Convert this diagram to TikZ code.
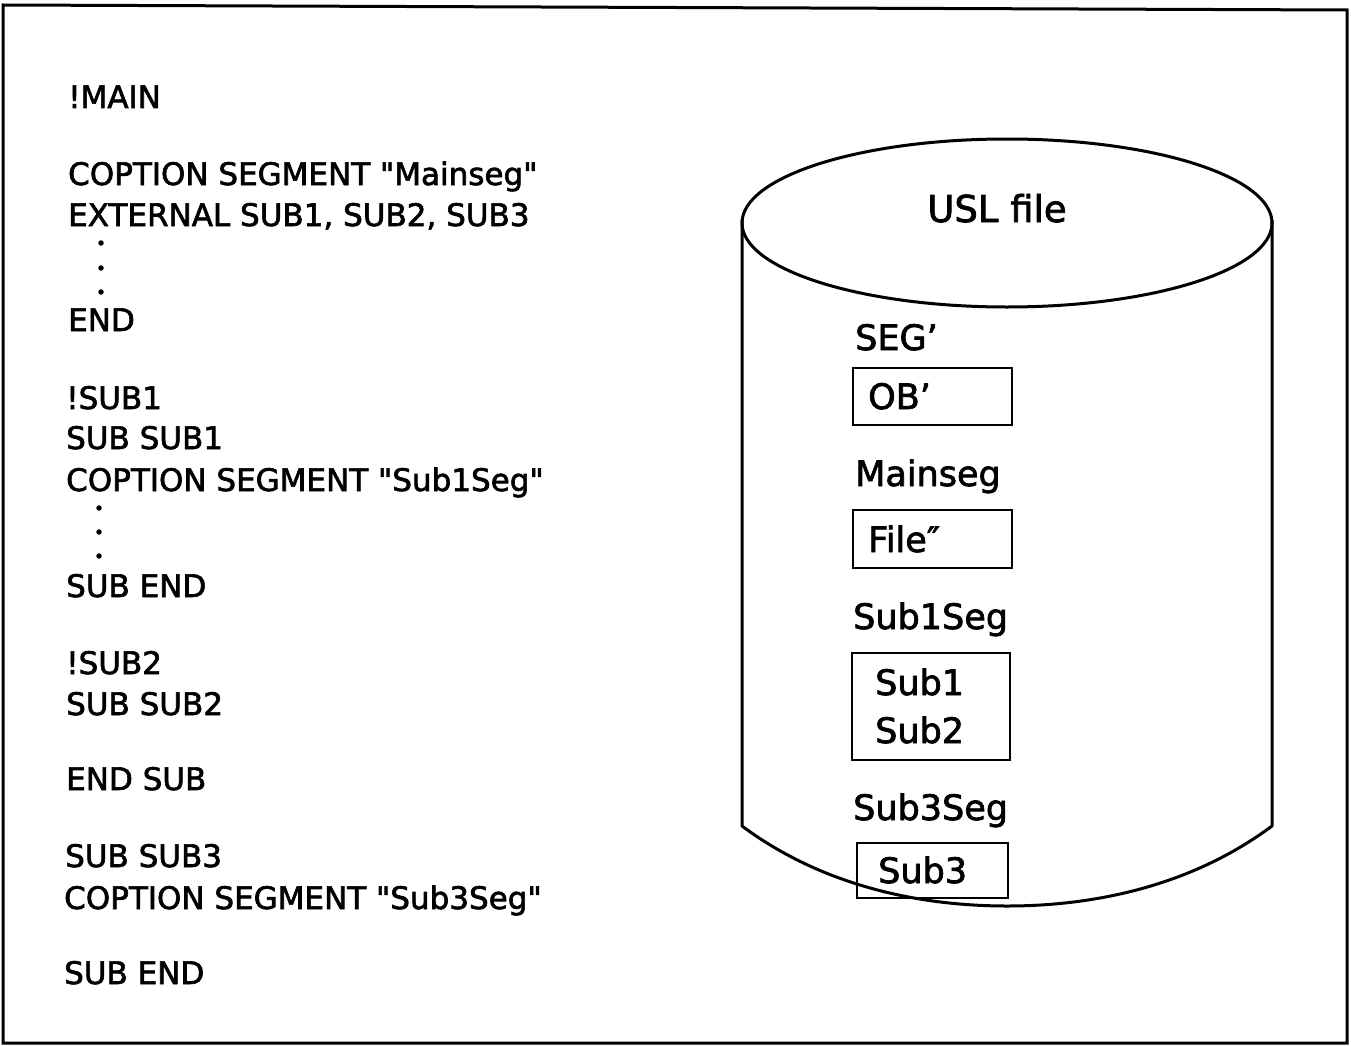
\documentclass[tikz,border=0pt]{standalone}
\usepackage{fontspec}
\newfontfamily\dvs{DejaVu Sans}[FakeBold=2]
\newcommand{\qq}{"}
\begin{document}
\begin{tikzpicture}[x=1pt,y=-1pt,
  code/.style={anchor=base west,inner sep=0pt,font=\dvs\fontsize{31}{36}\selectfont},
  rtxt/.style={anchor=base west,inner sep=0pt,font=\dvs\fontsize{35}{40}\selectfont},
  segbox/.style={draw,line width=2.5pt,inner sep=0pt},
  dotc/.style={circle,fill,inner sep=0pt,minimum size=5.5pt}]
\useasboundingbox (0,0) rectangle (1351,1046);
\draw[line width=3pt] (3,5) -- (1347,10) -- (1347,1043) -- (3,1043) -- cycle;
% code listing
\node[code] (l1) at (68,108) {!MAIN};
\node[code] (l2) at (68,185) {COPTION SEGMENT \qq Mainseg\qq};
\node[code] (l3) at (68,226) {EXTERNAL SUB1, SUB2, SUB3};
\node[dotc] (d1) at (101,243) {};
\node[dotc] (d2) at (101,268) {};
\node[dotc] (d3) at (101,292) {};
\node[code] (l4) at (68,331) {END};
\node[code] (l5) at (66,409) {!SUB1};
\node[code] (l6) at (66,449) {SUB SUB1};
\node[code] (l7) at (66,491) {COPTION SEGMENT \qq Sub1Seg\qq};
\node[dotc] (d4) at (99,508) {};
\node[dotc] (d5) at (99,532) {};
\node[dotc] (d6) at (99,556) {};
\node[code] (l8) at (66,597) {SUB END};
\node[code] (l9) at (66,674) {!SUB2};
\node[code] (l10) at (66,715) {SUB SUB2};
\node[code] (l11) at (66,790) {END SUB};
\node[code] (l12) at (65,867) {SUB SUB3};
\node[code] (l13) at (64,909) {COPTION SEGMENT \qq Sub3Seg\qq};
\node[code] (l14) at (64,984) {SUB END};
% cylinder
\draw[line width=3pt] (1007,223) ellipse [x radius=265, y radius=84];
\draw[line width=3pt,line join=round] (742,220) -- (742,826)
  .. controls (820,884) and (915,906) .. (1007,906)
  .. controls (1099,906) and (1194,884) .. (1272,826) -- (1272,220);
\node[anchor=base,inner sep=0pt,font=\dvs\fontsize{37}{42}\selectfont] (usl) at (997,222) {USL file};
% segments
\node[rtxt] (s1) at (855,350) {SEG’};
\node[segbox,minimum width=159pt,minimum height=57pt] (b1) at (932.5,396.5) {};
\node[rtxt] (t1) at (868,409) {OB’};
\node[rtxt] (s2) at (855,486) {Mainseg};
\node[segbox,minimum width=159pt,minimum height=58pt] (b2) at (932.5,539) {};
\node[rtxt] (t2) at (868,552) {File″};
\node[rtxt] (s3) at (853,629) {Sub1Seg};
\node[segbox,minimum width=158pt,minimum height=107pt] (b3) at (931,706.5) {};
\node[rtxt] (t3) at (875,695) {Sub1};
\node[rtxt] (t4) at (875,743) {Sub2};
\node[rtxt] (s4) at (853,820) {Sub3Seg};
\node[segbox,minimum width=151pt,minimum height=55pt] (b4) at (932.5,870.5) {};
\node[rtxt] (t5) at (878,883) {Sub3};
\end{tikzpicture}
\end{document}
